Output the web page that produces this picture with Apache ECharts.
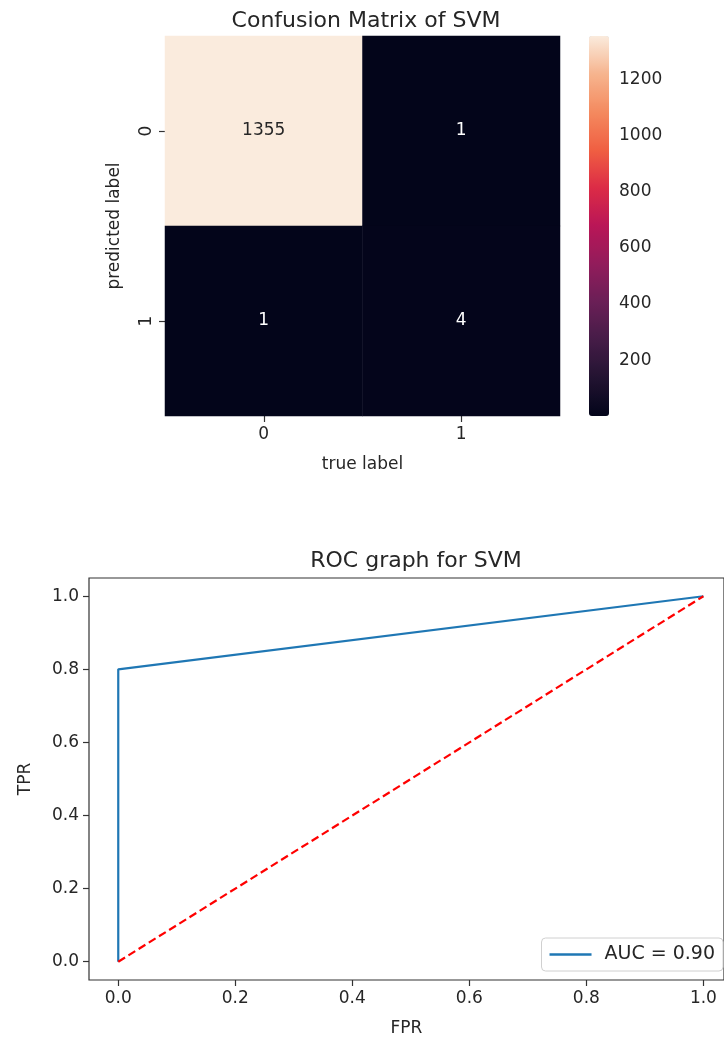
<!DOCTYPE html>
<html>
<head>
<meta charset="utf-8">
<script src="https://cdn.jsdelivr.net/npm/echarts@6/dist/echarts.min.js"></script>
<style>
  html, body { margin: 0; padding: 0; background: #fff; }
  #chart { width: 724px; height: 1038px; }
</style>
</head>
<body>
<div id="chart"></div>
<script>
// confusion matrix: rows = predicted label, cols = true label
const trueLabels = ['0', '1'];
const predLabels = ['0', '1'];
const counts = [
  [1355, 1],
  [1, 4]
];
const cbarTicks = [200, 400, 600, 800, 1000, 1200];

// ROC curve
const fpr = [0, 0, 1];
const tpr = [0, 0.8, 1];
const chanceX = [0, 1];
const chanceY = [0, 1];
const rocTicks = [0, 0.2, 0.4, 0.6, 0.8, 1.0];
const aucName = 'AUC = 0.90';

// seaborn "rocket"-like colour ramp
const rocket = ['#03051a', '#221331', '#451c47', '#6a1f56', '#921c5b',
  '#b91657', '#dc2b46', '#f05f42', '#f48a5f', '#f6b48e', '#faebdd'];

const FONT = 'DejaVu Sans';
const TXT = '#262626';
const FS = 17;
const cmin = 1, cmax = 1355;

const heatData = [];
counts.forEach((row, i) => {
  row.forEach((v, j) => {
    heatData.push({
      value: [j, i, v],
      label: { color: v > cmax / 2 ? TXT : '#ffffff' }
    });
  });
});

const chart = echarts.init(document.getElementById('chart'), null, { renderer: 'canvas' });

const tickStyle = { lineStyle: { color: '#333', width: 1.2 } };

const option = {
  backgroundColor: '#fff',
  animation: false,
  textStyle: { fontFamily: FONT, color: TXT },
  title: [
    {
      text: 'Confusion Matrix of SVM',
      left: 361, top: 5, textAlign: 'center',
      textStyle: { fontFamily: FONT, fontSize: 22, fontWeight: 'normal', color: TXT }
    },
    {
      text: 'ROC graph for SVM',
      left: 411, top: 545, textAlign: 'center',
      textStyle: { fontFamily: FONT, fontSize: 22, fontWeight: 'normal', color: TXT }
    }
  ],
  grid: [
    { left: 165, top: 36, width: 395, height: 380 },           // heatmap
    { left: 589, top: 36, width: 20, height: 380 },            // colorbar ticks
    { left: 89, top: 578, width: 637, height: 402,             // roc (right spine off-canvas)
      show: true, borderColor: '#333', borderWidth: 1.2 }
  ],
  xAxis: [
    {
      gridIndex: 0, type: 'category', data: trueLabels,
      name: 'true label', nameLocation: 'middle', nameGap: 40,
      nameTextStyle: { fontFamily: FONT, fontSize: FS, color: TXT },
      axisLine: { show: false },
      axisTick: Object.assign({ show: true, alignWithLabel: true, length: 6 }, tickStyle),
      axisLabel: { fontFamily: FONT, fontSize: FS, color: TXT, margin: 10 },
      splitLine: { show: false }
    },
    {
      gridIndex: 1, type: 'value', show: false, min: 0, max: 1
    },
    {
      gridIndex: 2, type: 'value', min: -0.05, max: 1.0352,
      name: 'FPR', nameLocation: 'middle', nameGap: 40,
      nameTextStyle: { fontFamily: FONT, fontSize: FS, color: TXT },
      axisLine: { show: false, onZero: false },
      axisTick: Object.assign({ show: true, length: 6, customValues: rocTicks }, tickStyle),
      axisLabel: { fontFamily: FONT, fontSize: FS, color: TXT, margin: 10,
        customValues: rocTicks, formatter: v => v.toFixed(1) },
      splitLine: { show: false }
    }
  ],
  yAxis: [
    {
      gridIndex: 0, type: 'category', data: predLabels, inverse: true,
      name: 'predicted label', nameLocation: 'middle', nameGap: 42,
      nameTextStyle: { fontFamily: FONT, fontSize: FS, color: TXT },
      axisLine: { show: false },
      axisTick: Object.assign({ show: true, alignWithLabel: true, length: 6 }, tickStyle),
      axisLabel: { fontFamily: FONT, fontSize: FS, color: TXT, rotate: 90, margin: 10 },
      splitLine: { show: false }
    },
    {
      gridIndex: 1, type: 'value', position: 'right', min: cmin, max: cmax,
      axisLine: { show: false },
      axisTick: Object.assign({ show: true, length: 6, customValues: cbarTicks }, tickStyle),
      axisLabel: { fontFamily: FONT, fontSize: FS, color: TXT, margin: 10,
        customValues: cbarTicks, formatter: v => String(v) },
      splitLine: { show: false }
    },
    {
      gridIndex: 2, type: 'value', min: -0.05, max: 1.05,
      name: 'TPR', nameLocation: 'middle', nameGap: 55,
      nameTextStyle: { fontFamily: FONT, fontSize: FS, color: TXT },
      axisLine: { show: false, onZero: false },
      axisTick: Object.assign({ show: true, length: 6, customValues: rocTicks }, tickStyle),
      axisLabel: { fontFamily: FONT, fontSize: FS, color: TXT, margin: 10,
        customValues: rocTicks, formatter: v => v.toFixed(1) },
      splitLine: { show: false }
    }
  ],
  visualMap: {
    type: 'continuous',
    seriesIndex: 0,
    min: cmin, max: cmax,
    calculable: false,
    hoverLink: false,
    left: 589, top: 36,
    padding: 0,
    itemWidth: 20, itemHeight: 380,
    text: null,
    inRange: { color: rocket }
  },
  legend: {
    data: [{ name: aucName, icon: 'rect' }],
    right: 1, top: 938,
    orient: 'vertical',
    itemWidth: 42, itemHeight: 2.5, itemGap: 8,
    padding: [7, 8, 7, 8],
    borderColor: '#d0d0d0', borderWidth: 1, borderRadius: 4,
    backgroundColor: 'rgba(255,255,255,0.85)',
    textStyle: { fontFamily: FONT, fontSize: 19, color: TXT, padding: [0, 0, 0, 8] }
  },
  series: [
    {
      type: 'heatmap',
      xAxisIndex: 0, yAxisIndex: 0,
      data: heatData,
      label: { show: true, fontFamily: FONT, fontSize: FS },
      itemStyle: { borderWidth: 0 },
      emphasis: { disabled: true }
    },
    {
      name: aucName,
      type: 'line',
      xAxisIndex: 2, yAxisIndex: 2,
      data: fpr.map((x, i) => [x, tpr[i]]),
      symbol: 'none', clip: false,
      lineStyle: { color: '#1f77b4', width: 2.2 },
      itemStyle: { color: '#1f77b4' }
    },
    {
      name: 'chance',
      type: 'line',
      xAxisIndex: 2, yAxisIndex: 2,
      data: chanceX.map((x, i) => [x, chanceY[i]]),
      symbol: 'none', clip: false,
      lineStyle: { color: '#ff0000', width: 2.2, type: [8, 4] }
    }
  ]
};

chart.setOption(option);
</script>
</body>
</html>
